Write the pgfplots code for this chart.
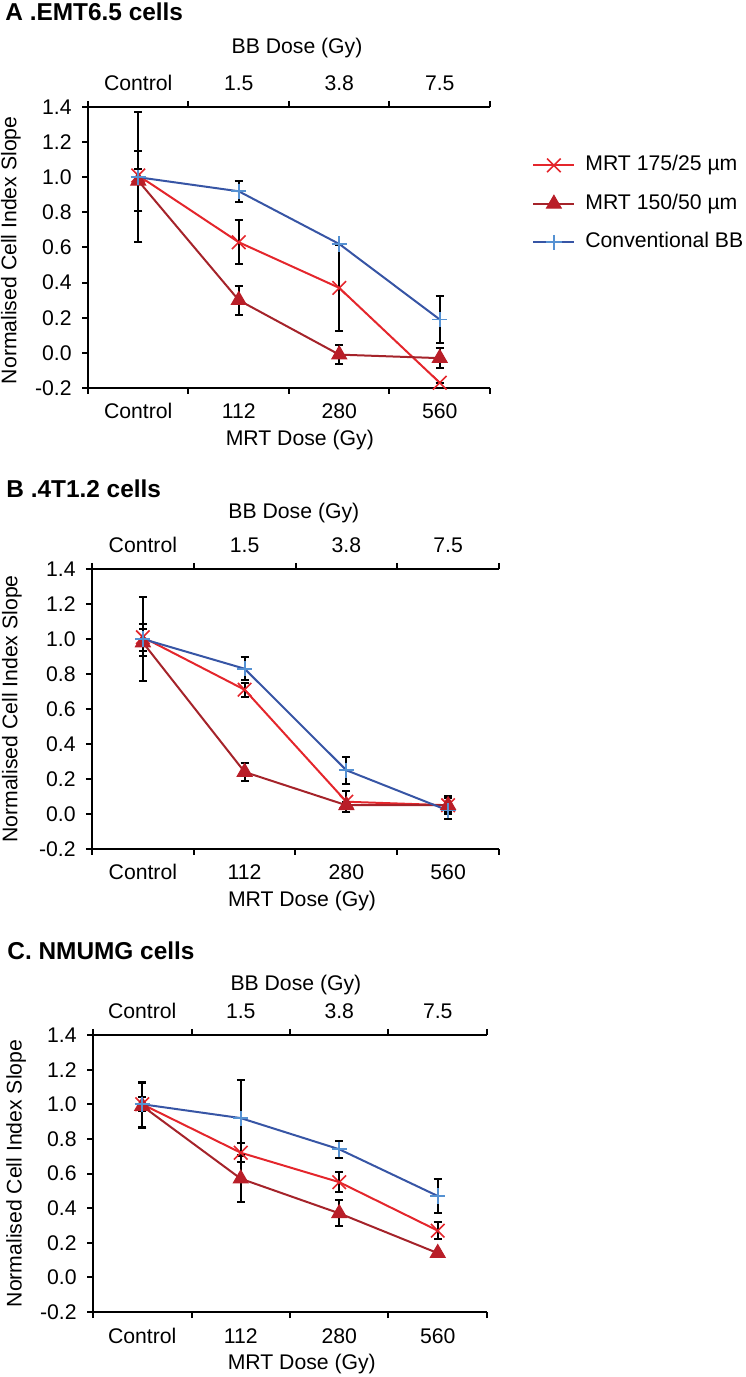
\documentclass[border=0pt]{standalone}
\usepackage{fontspec}
\setmainfont{Liberation Sans}
\usepackage{pgfplots}
\pgfplotsset{compat=1.18}

\definecolor{redx}{RGB}{228,38,44}
\definecolor{redtri}{RGB}{185,30,40}
\definecolor{redtriline}{RGB}{165,35,42}
\definecolor{blueline}{RGB}{55,85,165}
\definecolor{bluemark}{RGB}{85,145,210}

\newcommand\fs{\fontsize{10.6}{12}\selectfont}

\pgfplotsset{
  panel/.style={
    scale only axis,
    xmin=-0.5, xmax=3.5, ymin=-0.2, ymax=1.4,
    axis x line*=bottom, axis y line*=left,
    axis line style={line width=1pt,-},
    tick align=outside,
    major tick length=3pt, minor tick length=3pt,
    every tick/.style={black, line width=1pt},
    xtick={0,1,2,3}, xticklabels={Control,112,280,560},
    major x tick style={draw=none},
    minor xtick={-0.5,0.5,1.5,2.5,3.5},
    ytick={-0.2,0,0.2,0.4,0.6,0.8,1.0,1.2,1.4},
    yticklabels={-0.2,0.0,0.2,0.4,0.6,0.8,1.0,1.2,1.4},
    tick label style={font=\fs},
    label style={font=\fs},
    xticklabel style={anchor=base, yshift=-12.5pt},
    yticklabel style={anchor=east, inner sep=0pt, xshift=-5pt},
    ylabel={Normalised Cell Index Slope},
    xlabel={MRT Dose (Gy)},
  },
  paneltop/.style={
    scale only axis,
    xmin=-0.5, xmax=3.5, ymin=-0.2, ymax=1.4,
    axis x line*=top, axis y line=none,
    axis line style={line width=1pt,-},
    tick align=outside,
    major tick length=3pt, minor tick length=3pt,
    every tick/.style={black, line width=1pt},
    xtick={0,1,2,3}, xticklabels={Control,1.5,3.8,7.5},
    major x tick style={draw=none},
    minor xtick={-0.5,0.5,1.5,2.5,3.5},
    tick label style={font=\fs},
    label style={font=\fs},
    xticklabel style={anchor=base, yshift=5.25pt},
    xlabel={BB Dose (Gy)},
  },
  errs/.style={error bars/.cd, y dir=both, y explicit,
    error bar style={black, line width=1pt},
    error mark options={black, rotate=90, mark size=2pt, line width=1pt}},
  mrtx/.style={color=redx, line width=1pt, mark=x, mark size=4.8pt,
    mark options={line width=0.8pt, redx}, errs},
  mrttri/.style={color=redtriline, line width=1pt, mark=triangle*, mark size=4.3pt,
    mark options={fill=redtri, draw=redtri, line width=0.5pt}, errs},
  conv/.style={color=blueline, line width=1pt, mark=+, mark size=3.8pt,
    mark options={line width=0.9pt, bluemark}, errs},
}

\begin{document}
\begin{tikzpicture}
\useasboundingbox (0,0) rectangle (372.5pt,688.5pt);

% ---------------- Panel A ----------------
\node[anchor=base west, font=\fontsize{12.2}{14}\selectfont\bfseries, inner sep=0pt] at (2.5pt,678.25pt) {A .EMT6.5 cells};
\begin{axis}[panel, at={(44pt,494.5pt)}, anchor=south west, width=201pt, height=140.5pt,
  xlabel style={at={(axis description cs:0.527,-0.203)}, anchor=base},
  ylabel style={at={(axis description cs:-0.1915,0.49)}, anchor=center},
  legend style={at={(axis description cs:1.1045,0.831)}, anchor=north west, draw=none, fill=none,
    font=\fs, inner sep=0pt, row sep=8.75pt, column sep=0pt,
    nodes={inner sep=0pt, text height=8pt, text depth=2.5pt},
    /tikz/every odd column/.append style={column sep=5pt}},
  legend cell align=left,
  legend image code/.code={\draw[mark repeat=2,mark phase=2,#1] plot coordinates {(0pt,0pt) (10.25pt,0pt) (20.5pt,0pt)};},
]
\addplot[mrtx] coordinates {(0,1.01) +- (0,0.035) (1,0.63) +- (0,0.125) (2,0.37) +- (0,0.245) (3,-0.17) +- (0,0)};
\addlegendentry{MRT 175/25 µm}
\addplot[mrttri] coordinates {(0,0.98) +- (0,0.17) (1,0.30) +- (0,0.083) (2,-0.01) +- (0,0.055) (3,-0.03) +- (0,0.055)};
\addlegendentry{MRT 150/50 µm}
\addplot[conv] coordinates {(0,1.0) +- (0,0.37) (1,0.92) +- (0,0.06) (2,0.62) +- (0,0) (3,0.19) +- (0,0.136)};
\addlegendentry{Conventional BB}
\end{axis}
\begin{axis}[paneltop, at={(44pt,494.5pt)}, anchor=south west, width=201pt, height=140.5pt,
  xlabel style={at={(axis description cs:0.52,1.192)}, anchor=base}]
\addplot[draw=none] coordinates {(0,0)};
\end{axis}

% ---------------- Panel B ----------------
\node[anchor=base west, font=\fontsize{12.2}{14}\selectfont\bfseries, inner sep=0pt] at (3pt,439.5pt) {B .4T1.2 cells};
\begin{axis}[panel, at={(46pt,264pt)}, anchor=south west, width=203.5pt, height=140pt,
  xlabel style={at={(axis description cs:0.516,-0.207)}, anchor=base},
  ylabel style={at={(axis description cs:-0.197,0.5)}, anchor=center},
]
\addplot[mrtx] coordinates {(0,1.01) +- (0,0.077) (1,0.71) +- (0,0.04) (2,0.07) +- (0,0.06) (3,0.05) +- (0,0.04)};
\addplot[mrttri] coordinates {(0,0.98) +- (0,0.075) (1,0.24) +- (0,0.05) (2,0.05) +- (0,0.02) (3,0.05) +- (0,0.05)};
\addplot[conv] coordinates {(0,1.0) +- (0,0.24) (1,0.83) +- (0,0.065) (2,0.25) +- (0,0.077) (3,0.02) +- (0,0.05)};
\end{axis}
\begin{axis}[paneltop, at={(46pt,264pt)}, anchor=south west, width=203.5pt, height=140pt,
  xlabel style={at={(axis description cs:0.496,1.179)}, anchor=base}]
\addplot[draw=none] coordinates {(0,0)};
\end{axis}

% ---------------- Panel C ----------------
\node[anchor=base west, font=\fontsize{12.2}{14}\selectfont\bfseries, inner sep=0pt] at (3.5pt,208.5pt) {C. NMUMG cells};
\begin{axis}[panel, at={(46.5pt,32.5pt)}, anchor=south west, width=197pt, height=138.5pt,
  xlabel style={at={(axis description cs:0.53,-0.206)}, anchor=base},
  ylabel style={at={(axis description cs:-0.195,0.5)}, anchor=center},
]
\addplot[mrtx] coordinates {(0,1.0) +- (0,0.04) (1,0.72) +- (0,0.055) (2,0.55) +- (0,0.057) (3,0.27) +- (0,0.048)};
\addplot[mrttri] coordinates {(0,0.99) +- (0,0.13) (1,0.57) +- (0,0.135) (2,0.37) +- (0,0.075) (3,0.14) +- (0,0)};
\addplot[conv] coordinates {(0,1.0) +- (0,0.13) (1,0.92) +- (0,0.22) (2,0.74) +- (0,0.05) (3,0.47) +- (0,0.1)};
\end{axis}
\begin{axis}[paneltop, at={(46.5pt,32.5pt)}, anchor=south west, width=197pt, height=138.5pt,
  xlabel style={at={(axis description cs:0.515,1.162)}, anchor=base}]
\addplot[draw=none] coordinates {(0,0)};
\end{axis}
\end{tikzpicture}
\end{document}
